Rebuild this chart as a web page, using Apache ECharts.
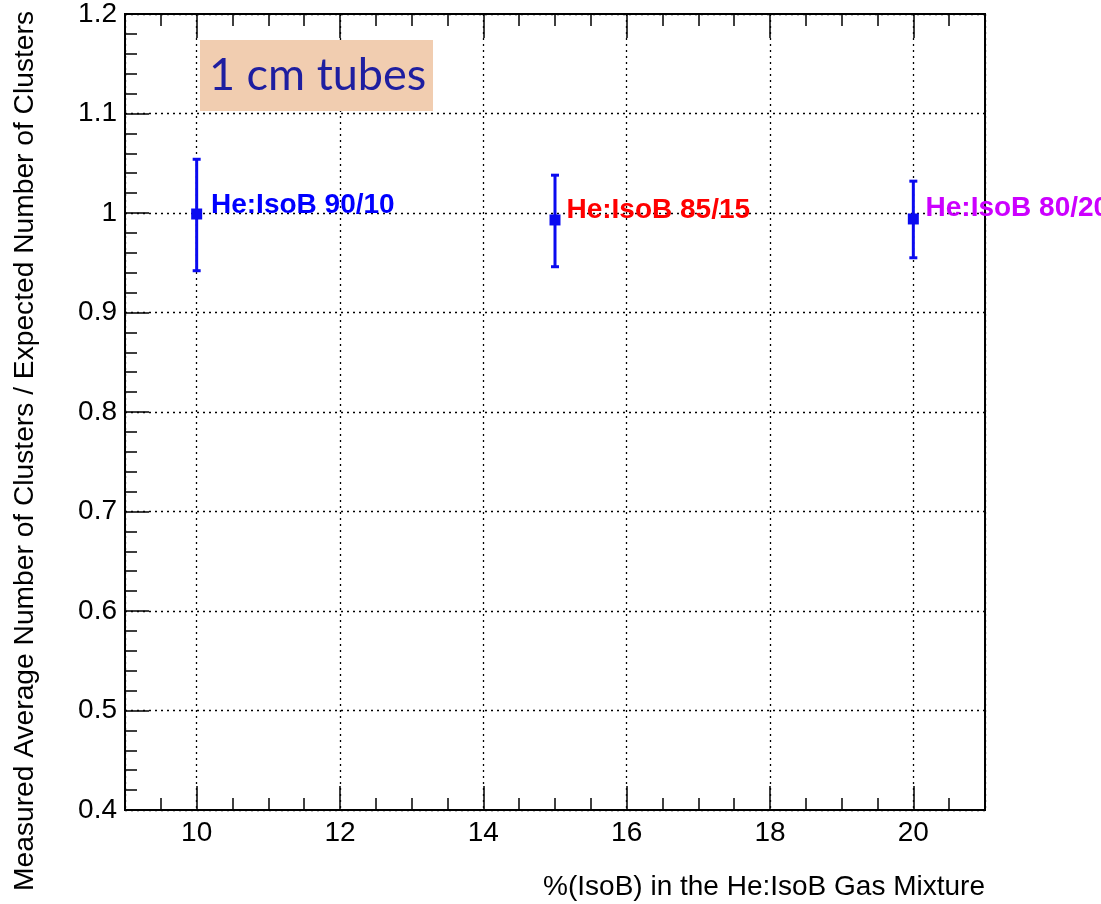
<!DOCTYPE html>
<html>
<head>
<meta charset="utf-8">
<script src="https://cdn.jsdelivr.net/npm/echarts@6/dist/echarts.min.js"></script>
<style>html,body{margin:0;padding:0;background:#fff;}#chart{width:1101px;height:904px;}</style>
</head>
<body>
<div id="chart"></div>
<script>
// Data
const xVals = [10, 15, 20];
const yVals = [0.999, 0.993, 0.994];
const yLow = [0.942, 0.946, 0.955];
const yHigh = [1.054, 1.038, 1.032];
const labelTexts = ['He:IsoB 90/10', 'He:IsoB 85/15', 'He:IsoB 80/20'];
const labelX = [10.2, 15.16, 20.17];
const labelY = [1.008, 1.0025, 1.005];
const labelColors = ['#0000ff', '#ff0000', '#cc00ff'];
const xTitle = '%(IsoB) in the He:IsoB Gas Mixture';
const yTitle = 'Measured Average Number of Clusters / Expected Number of Clusters';
const boxText = '1 cm tubes';

const FONT = 'Liberation Sans, Arial, Helvetica, sans-serif';
const BLUE = '#0a0af0';

const chart = echarts.init(document.getElementById('chart'));

const gridLine = {show: true, lineStyle: {color: '#000', width: 1.3, type: [2, 4]}};
const tick = {show: true, inside: true, length: 24, lineStyle: {color: '#000', width: 1.5}};
const minor = {show: true, length: 12, lineStyle: {color: '#000', width: 1.5}};

const option = {
  backgroundColor: '#fff',
  animation: false,
  grid: {left: 125, right: 116, top: 10, bottom: 94, show: true, borderColor: '#000', borderWidth: 2, backgroundColor: 'transparent'},
  xAxis: [
    {
      type: 'value', min: 9, max: 21, splitNumber: 6, position: 'bottom',
      axisLine: {show: true, onZero: false, lineStyle: {color: '#000', width: 2}},
      axisTick: tick, minorTick: Object.assign({splitNumber: 4}, minor),
      splitLine: gridLine,
      axisLabel: {showMinLabel: false, showMaxLabel: false, color: '#000', fontSize: 28, fontFamily: FONT, margin: 9}
    },
    {
      type: 'value', min: 9, max: 21, splitNumber: 6, position: 'top',
      axisLine: {show: true, onZero: false, lineStyle: {color: '#000', width: 2}},
      axisTick: tick, minorTick: Object.assign({splitNumber: 4}, minor),
      splitLine: {show: false}, axisLabel: {show: false}
    }
  ],
  yAxis: [
    {
      type: 'value', min: 0.4, max: 1.2, interval: 0.1, position: 'left',
      axisLine: {show: true, onZero: false, lineStyle: {color: '#000', width: 2}},
      axisTick: tick, minorTick: Object.assign({splitNumber: 5}, minor),
      splitLine: gridLine,
      axisLabel: {color: '#000', fontSize: 28, fontFamily: FONT, margin: 8,
        formatter: v => String(Math.round(v * 10) / 10)}
    }
  ],
  graphic: [
    {type: 'rect', left: 200, top: 40, shape: {width: 233, height: 71}, style: {fill: '#f1cdb0'}, z: 5},
    {type: 'text', left: 209, top: 53, style: {text: boxText, fill: '#1e1ea0', font: '45px Lato, "Open Sans", sans-serif'}, z: 6},
    {type: 'text', x: 985, y: 887, style: {text: xTitle, fill: '#000', font: '28px ' + FONT, textAlign: 'right', textVerticalAlign: 'middle'}},
    {type: 'text', x: 25, y: 11, rotation: Math.PI / 2, style: {text: yTitle, fill: '#000', font: '28.2px ' + FONT, textAlign: 'right', textVerticalAlign: 'middle'}}
  ],
  series: [
    {
      type: 'custom', xAxisIndex: 0, yAxisIndex: 0, z: 3,
      data: xVals.map((x, i) => [x, yLow[i], yHigh[i]]),
      renderItem: function (params, api) {
        const x = api.value(0), lo = api.value(1), hi = api.value(2);
        const p1 = api.coord([x, lo]), p2 = api.coord([x, hi]);
        const w = 4;
        const st = {stroke: BLUE, lineWidth: 3};
        return {type: 'group', children: [
          {type: 'line', shape: {x1: p1[0], y1: p1[1], x2: p2[0], y2: p2[1]}, style: st},
          {type: 'line', shape: {x1: p1[0] - w, y1: p1[1], x2: p1[0] + w, y2: p1[1]}, style: st},
          {type: 'line', shape: {x1: p2[0] - w, y1: p2[1], x2: p2[0] + w, y2: p2[1]}, style: st}
        ]};
      }
    },
    {
      type: 'scatter', xAxisIndex: 0, yAxisIndex: 0, z: 4,
      symbol: 'rect', symbolSize: 11,
      itemStyle: {color: BLUE, opacity: 1},
      data: xVals.map((x, i) => [x, yVals[i]])
    },
    {
      type: 'scatter', xAxisIndex: 0, yAxisIndex: 0, z: 6, symbolSize: 0, silent: true,
      itemStyle: {opacity: 1},
      data: labelX.map((x, i) => ({
        value: [x, labelY[i]],
        label: {show: true, position: 'right', distance: 0, formatter: labelTexts[i],
          color: labelColors[i], fontSize: 28, fontWeight: 'bold', fontFamily: FONT}
      }))
    }
  ]
};
chart.setOption(option);
</script>
</body>
</html>
